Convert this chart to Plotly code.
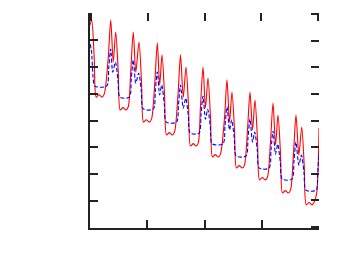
import plotly.graph_objects as go

red_x = [0.000, 0.030,
         0.074, 0.109, 0.157, 0.208, 0.248,
         0.318, 0.362, 0.406, 0.449,
         0.493, 0.528, 0.576, 0.627, 0.667,
         0.712, 0.756, 0.800, 0.856,
         0.900, 0.935, 0.983, 1.034, 1.074,
         1.132, 1.176, 1.217, 1.258,
         1.302, 1.337, 1.385, 1.436, 1.476,
         1.537, 1.581, 1.629, 1.677,
         1.721, 1.756, 1.804, 1.850, 1.890,
         1.930, 1.974, 2.017, 2.061,
         2.105, 2.140, 2.188, 2.239, 2.279,
         2.349, 2.393, 2.437, 2.480,
         2.524, 2.559, 2.607, 2.658, 2.698,
         2.751, 2.795, 2.839, 2.882,
         2.926, 2.961, 3.009, 3.060, 3.100,
         3.153, 3.197, 3.241, 3.284,
         3.328, 3.363, 3.411, 3.462, 3.502,
         3.554, 3.598, 3.648, 3.698,
         3.742, 3.777, 3.825, 3.876, 3.916,
         3.960, 4.000]
red_y = [7.55, 7.74,
         6.30, 4.87, 4.96, 4.87, 4.98,
         6.31, 7.74, 6.18, 7.29,
         5.84, 4.39, 4.48, 4.39, 4.50,
         5.84, 7.29, 5.80, 6.92,
         5.43, 3.94, 4.03, 3.94, 4.05,
         5.41, 6.88, 5.32, 6.44,
         4.95, 3.46, 3.55, 3.46, 3.57,
         4.95, 6.44, 4.87, 5.99,
         4.52, 3.05, 3.14, 3.05, 3.16,
         4.52, 5.99, 4.47, 5.58,
         4.11, 2.64, 2.73, 2.64, 2.75,
         4.08, 5.51, 3.94, 5.06,
         3.65, 2.23, 2.32, 2.23, 2.34,
         3.65, 5.06, 3.65, 4.76,
         3.28, 1.79, 1.88, 1.79, 1.90,
         3.22, 4.65, 3.09, 4.20,
         2.75, 1.30, 1.39, 1.30, 1.41,
         2.75, 4.20, 2.72, 3.76,
         2.31, 0.86, 0.95, 0.86, 0.97,
         1.30, 3.72]

blue_x = [0.000, 0.025, 0.055, 0.085,
          0.292, 0.327, 0.362, 0.397, 0.444, 0.489, 0.524,
          0.686, 0.721, 0.756, 0.800, 0.851, 0.896, 0.931,
          1.106, 1.141, 1.176, 1.217, 1.253, 1.298, 1.333,
          1.511, 1.546, 1.581, 1.629, 1.672, 1.717, 1.752,
          1.904, 1.939, 1.974, 2.017, 2.056, 2.101, 2.136,
          2.323, 2.358, 2.393, 2.437, 2.475, 2.520, 2.555,
          2.725, 2.760, 2.795, 2.839, 2.877, 2.922, 2.957,
          3.127, 3.162, 3.197, 3.241, 3.279, 3.324, 3.359,
          3.528, 3.563, 3.598, 3.648, 3.693, 3.738, 3.773,
          3.950, 3.975, 4.000]
blue_y = [6.85, 6.60, 5.60, 5.28,
          5.28, 5.95, 6.66, 5.80, 6.17, 5.50, 4.87,
          4.87, 5.55, 6.25, 5.39, 5.76, 5.10, 4.43,
          4.43, 5.10, 5.81, 4.95, 5.32, 4.60, 3.94,
          3.94, 4.60, 5.32, 4.46, 4.83, 4.20, 3.53,
          3.53, 4.20, 4.91, 4.05, 4.42, 3.80, 3.13,
          3.13, 3.80, 4.51, 3.65, 4.02, 3.35, 2.68,
          2.68, 3.35, 4.06, 3.20, 3.57, 2.90, 2.23,
          2.23, 2.90, 3.61, 2.75, 3.12, 2.45, 1.82,
          1.82, 2.50, 3.20, 2.34, 2.71, 2.05, 1.41,
          1.41, 2.00, 2.79]

x_ticks = [0, 1, 2, 3, 4]
y_ticks = [0, 1, 2, 3, 4, 5, 6, 7, 8]

fig = go.Figure()
fig.add_trace(go.Scatter(x=red_x, y=red_y, mode="lines",
                         line=dict(color="#ff0000", width=1.1, shape="spline", smoothing=0.8),
                         showlegend=False, hoverinfo="skip"))
fig.add_trace(go.Scatter(x=blue_x, y=blue_y, mode="lines",
                         line=dict(color="#0000ff", width=1.1, dash="4px,2px", shape="spline", smoothing=0.8),
                         showlegend=False, hoverinfo="skip"))
fig.add_trace(go.Scatter(x=[None], y=[None], xaxis="x2", yaxis="y2",
                         mode="lines", showlegend=False, hoverinfo="skip"))

axis_common = dict(ticks="inside", ticklen=8, tickwidth=1.5, tickcolor="#222222",
                   showticklabels=False, showgrid=False, zeroline=False)
fig.update_layout(
    width=339, height=270,
    margin=dict(l=90, r=20, t=13, b=42),
    paper_bgcolor="white", plot_bgcolor="white",
    hovermode=False,
    xaxis=dict(range=[0, 4], tickvals=x_ticks, showline=True, linewidth=1.5,
               linecolor="#222222", **axis_common),
    yaxis=dict(range=[0, 8], tickvals=y_ticks, showline=True, linewidth=1.5,
               linecolor="#222222", **axis_common),
    xaxis2=dict(range=[-0.022, 4.022], tickvals=x_ticks, overlaying="x", side="top",
                anchor="y2", showline=False, **axis_common),
    yaxis2=dict(range=[-0.045, 8.045], tickvals=y_ticks, overlaying="y", side="right",
                anchor="x2", showline=False, **axis_common),
)
fig.write_html("out.html", config={"displayModeBar": False},
               post_script="document.body.style.margin='0';document.body.style.padding='0';")
